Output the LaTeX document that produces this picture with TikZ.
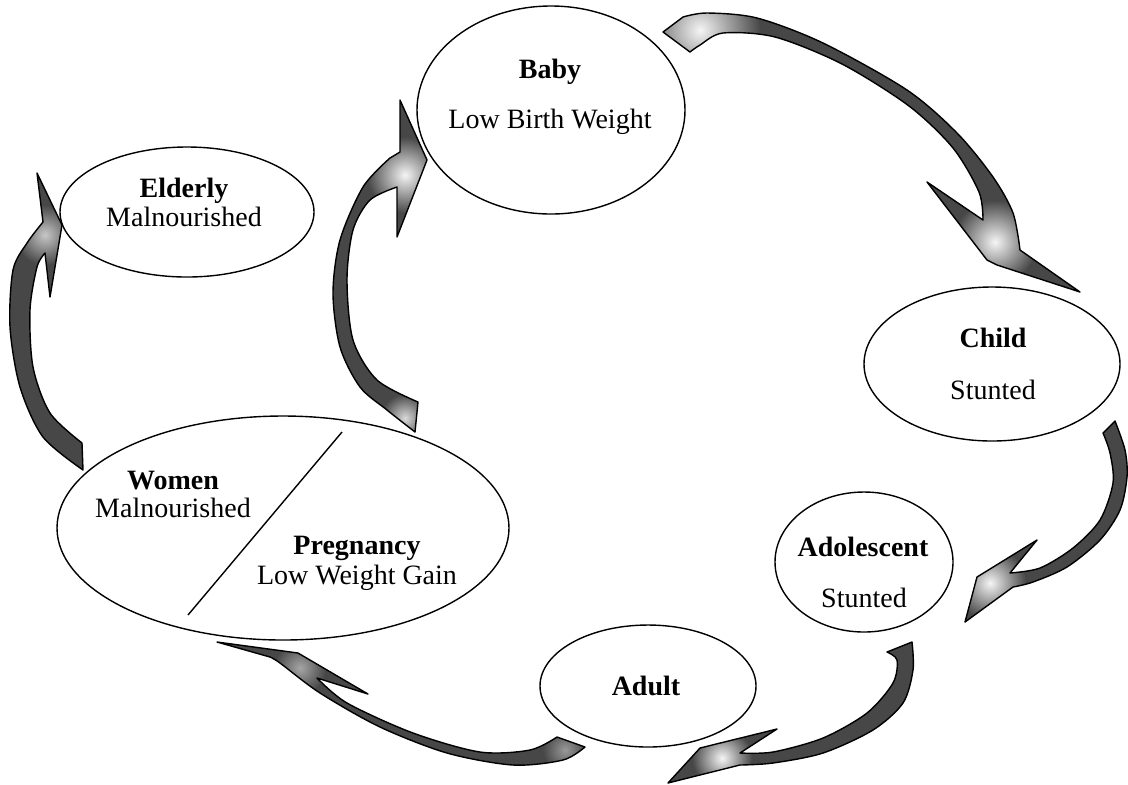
\documentclass[tikz,border=0pt]{standalone}
\usepackage{fontspec}
\setmainfont{Liberation Serif}
\usetikzlibrary{shapes.geometric}
\newcommand\ArrBabyChild{(663,32) -- (683,17) -- plot[smooth] coordinates {(683,17) (707,13) (757,18) (823,43) (907,90) (957,133) (993,177) (1013,213) (1020,250)}
 -- (1080,292) -- (997,265) -- (987,260) -- (927,182) -- (983,220)
 -- plot[smooth] coordinates {(983,220) (979,192) (953,148) (909,106) (842,64) (775,37) (723,33) (700,45) (690,52)} -- cycle}
\newcommand\ArrChildAdol{(1103,433) -- (1115,421) -- plot[smooth] coordinates {(1115,421) (1125,450) (1127,477) (1120,510) (1100,540) (1067,567) (1033,582) (1013,587)}
 -- (965,622) -- (977,577) -- (1037,540) -- (1010,573)
 -- plot[smooth] coordinates {(1010,573) (1040,568) (1073,548) (1100,520) (1113,483) (1110,453) (1103,433)} -- cycle}
\newcommand\ArrAdolAdult{(887,652) -- (912,642) -- plot[smooth] coordinates {(912,642) (913,670) (903,703) (873,730) (823,753) (773,763) (740,765)}
 -- (668,783) -- (700,748) -- (777,729) -- (740,753)
 -- plot[smooth] coordinates {(740,753) (773,752) (823,738) (867,713) (893,683) (897,660) (887,652)} -- cycle}
\newcommand\ArrAdultWomen{(557,737) -- (585,747) -- plot[smooth] coordinates {(585,747) (563,760) (513,765) (447,753) (380,727) (320,693) (280,663) (270,657)}
 -- (217,642) -- (298,653) -- (368,694) -- (317,678)
 -- plot[smooth] coordinates {(317,678) (347,703) (413,733) (480,752) (530,750) (557,737)} -- cycle}
\newcommand\ArrWomenElderly{(82,443) -- (83,470) -- plot[smooth] coordinates {(83,470) (43,437) (20,387) (10,327) (13,270) (27,243) (43,222)}
 -- (37,173) -- (62,225) -- (50,297) -- (45,253)
 -- plot[smooth] coordinates {(45,253) (37,267) (30,310) (33,367) (50,413) (82,443)} -- cycle}
\newcommand\ArrWomenBaby{(418,402) -- (415,432) -- plot[smooth] coordinates {(415,432) (387,410) (360,387) (340,347) (333,293) (340,240) (363,187) (390,158)}
 -- (400,152) -- (400,100) -- (427,160) -- (397,237) -- (397,187)
 -- plot[smooth] coordinates {(397,187) (370,200) (353,230) (347,280) (353,340) (377,380) (418,402)} -- cycle}
\begin{document}
\begin{tikzpicture}[x=0.5pt,y=-0.5pt,
  ell/.style={draw=black, line width=0.7pt, ellipse, inner sep=0pt},
  lbl/.style={inner sep=0pt, font=\fontsize{14}{16}\selectfont},
  blbl/.style={inner sep=0pt, font=\fontsize{14}{16}\selectfont\bfseries},
  barrow/.style={draw=black, line width=0.7pt, line join=round},
  bodyfill/.style={fill=black!72},
  glow/.style={inner color=black!4, middle color=black!15, outer color=black!72}]
\useasboundingbox (0,0) rectangle (1128,784);
\fill[white] (0,0) rectangle (1128,784);

% ellipses
\node[ell, minimum width=134pt, minimum height=104pt] (baby) at (551,110) {};
\node[ell, minimum width=127pt, minimum height=65pt] (elderly) at (187,212) {};
\node[ell, minimum width=128pt, minimum height=77pt] (child) at (992,364) {};
\node[ell, minimum width=89pt, minimum height=70pt] (adol) at (864,562) {};
\node[ell, minimum width=108pt, minimum height=61pt] (adult) at (648,686) {};
\node[ell, minimum width=226pt, minimum height=112pt] (women) at (283,528) {};
\coordinate (divtop) at (342,432);
\coordinate (divbot) at (188,615);
\draw[line width=0.7pt] (divtop) -- (divbot);

% texts
\node[blbl] (tbaby) at (550,72) {Baby};
\node[lbl] (tlbw) at (550,122) {Low Birth Weight};
\node[blbl] (telderly) at (184,191) {Elderly};
\node[lbl] (telmal) at (184,217) {Malnourished};
\node[blbl] (tchild) at (993,338) {Child};
\node[lbl] (tchst) at (993,390) {Stunted};
\node[blbl] (tadol) at (863,547) {Adolescent};
\node[lbl] (tadst) at (864,598) {Stunted};
\node[blbl] (tadult) at (646,686) {Adult};
\node[blbl] (twomen) at (173,481) {Women};
\node[lbl] (twomal) at (173,508) {Malnourished};
\node[blbl] (tpreg) at (357,548) {Pregnancy};
\node[lbl] (tlwg) at (357,578) {Low Weight Gain};

% arrow baby -> child
\begin{scope}
\clip \ArrBabyChild;
\fill[bodyfill] (640,0) rectangle (1090,300);
\shade[glow] (700,30) circle (60);
\shade[glow] (995,242) circle (42);
\end{scope}
\draw[barrow] \ArrBabyChild;

% arrow child -> adolescent
\begin{scope}
\clip \ArrChildAdol;
\fill[bodyfill] (950,410) rectangle (1128,630);
\shade[glow] (990,583) circle (36);
\end{scope}
\draw[barrow] \ArrChildAdol;

% arrow adolescent -> adult
\begin{scope}
\clip \ArrAdolAdult;
\fill[bodyfill] (660,630) rectangle (920,784);
\shade[glow] (722,758) circle (30);
\end{scope}
\draw[barrow] \ArrAdolAdult;

% arrow adult -> women
\begin{scope}
\clip \ArrAdultWomen;
\fill[bodyfill] (210,630) rectangle (590,770);
\shade[inner color=black!35, outer color=black!72] (300,668) circle (26);
\shade[inner color=black!40, outer color=black!72] (565,750) circle (22);
\end{scope}
\draw[barrow] \ArrAdultWomen;

% arrow women -> elderly
\begin{scope}
\clip \ArrWomenElderly;
\fill[bodyfill] (0,165) rectangle (90,475);
\shade[inner color=black!22, outer color=black!72] (45,235) circle (30);
\end{scope}
\draw[barrow] \ArrWomenElderly;

% arrow women -> baby
\begin{scope}
\clip \ArrWomenBaby;
\fill[bodyfill] (325,95) rectangle (430,440);
\shade[glow] (405,175) circle (38);
\shade[inner color=black!15, outer color=black!72] (405,418) circle (24);
\end{scope}
\draw[barrow] \ArrWomenBaby;
\end{tikzpicture}
\end{document}
